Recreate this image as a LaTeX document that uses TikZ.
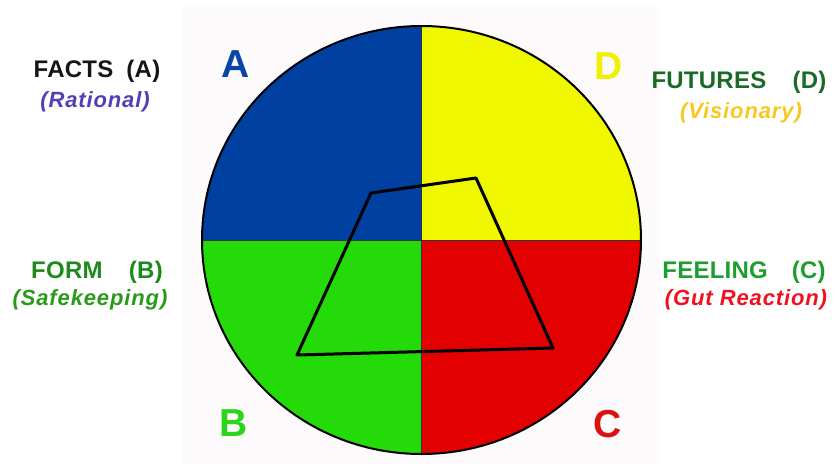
\documentclass[tikz,border=0pt]{standalone}
\usepackage{fontspec}
\setmainfont{Liberation Sans}
\definecolor{bgc}{HTML}{FCFAFB}
\definecolor{qblue}{HTML}{0040A0}
\definecolor{qyellow}{HTML}{F0F800}
\definecolor{qgreen}{HTML}{24DA08}
\definecolor{qred}{HTML}{E20000}
\definecolor{lA}{HTML}{0A44A8}
\definecolor{lD}{HTML}{F0F000}
\definecolor{lB}{HTML}{2BD61A}
\definecolor{lC}{HTML}{DD1010}
\definecolor{tA}{HTML}{151515}
\definecolor{sA}{HTML}{5040B8}
\definecolor{tD}{HTML}{1A6B2A}
\definecolor{sD}{HTML}{F8C820}
\definecolor{tB}{HTML}{1E8A1E}
\definecolor{sB}{HTML}{2A9A1A}
\definecolor{tC}{HTML}{1E9E2E}
\definecolor{sC}{HTML}{F01020}
\tikzset{
  biglet/.style={font=\fontsize{39}{39}\selectfont\bfseries, inner sep=0pt},
  mainlab/.style={font=\fontsize{24}{24}\selectfont\bfseries\addfontfeature{LetterSpace=1}, inner sep=0pt},
  sublab/.style={font=\fontsize{22}{22}\selectfont\bfseries\itshape\addfontfeature{LetterSpace=4}, inner sep=0pt},
  quad/.style={line width=3pt, line join=round, black}
}
\begin{document}
\begin{tikzpicture}[x=1pt,y=-1pt]
\useasboundingbox (0,0) rectangle (835,466);
\fill[bgc] (181,7) rectangle (660,464);
\coordinate (O) at (421.5,240);
\begin{scope}
  \clip (O) ellipse [x radius=219.5pt, y radius=214pt];
  \fill[qblue] (190,10) rectangle (O);
  \fill[qyellow] (650,10) rectangle (O);
  \fill[qgreen] (190,460) rectangle (O);
  \fill[qred] (650,460) rectangle (O);
\end{scope}
\coordinate (T) at (421.5,26);
\coordinate (Bt) at (421.5,454);
\coordinate (L) at (202,240);
\coordinate (R) at (641,240);
\draw[line width=0.8pt, black!80] (T) -- (Bt);
\draw[line width=0.8pt, black!80] (L) -- (R);
\draw[line width=2pt, black] (O) ellipse [x radius=219.5pt, y radius=214pt];
\coordinate (q1) at (371,193);
\coordinate (q2) at (476,178);
\coordinate (q3) at (553,348);
\coordinate (q4) at (297,355);
\draw[quad] (q1) -- (q2) -- (q3) -- (q4) -- cycle;
\node[biglet, text=lA] (letA) at (236,64) {A};
\node[biglet, text=lD] (letD) at (609,66) {D};
\node[biglet, text=lB] (letB) at (234,423) {B};
\node[biglet, text=lC] (letC) at (608,424) {C};
\node[mainlab, text=tA] (facts) at (97,71) {FACTS\hspace{0.55em}(A)};
\node[sublab, text=sA] (rational) at (95,102) {(Rational)};
\node[mainlab, text=tD] (futures) at (739,82) {FUTURES\hspace{1.1em}(D)};
\node[sublab, text=sD] (visionary) at (741,113) {(Visionary)};
\node[mainlab, text=tB] (form) at (97,272) {FORM\hspace{1.1em}(B)};
\node[sublab, text=sB] (safe) at (90,300) {(Safekeeping)};
\node[mainlab, text=tC] (feeling) at (744,272) {FEELING\hspace{1em}(C)};
\node[sublab, text=sC] (gut) at (746,300) {(Gut Reaction)};
\end{tikzpicture}
\end{document}
